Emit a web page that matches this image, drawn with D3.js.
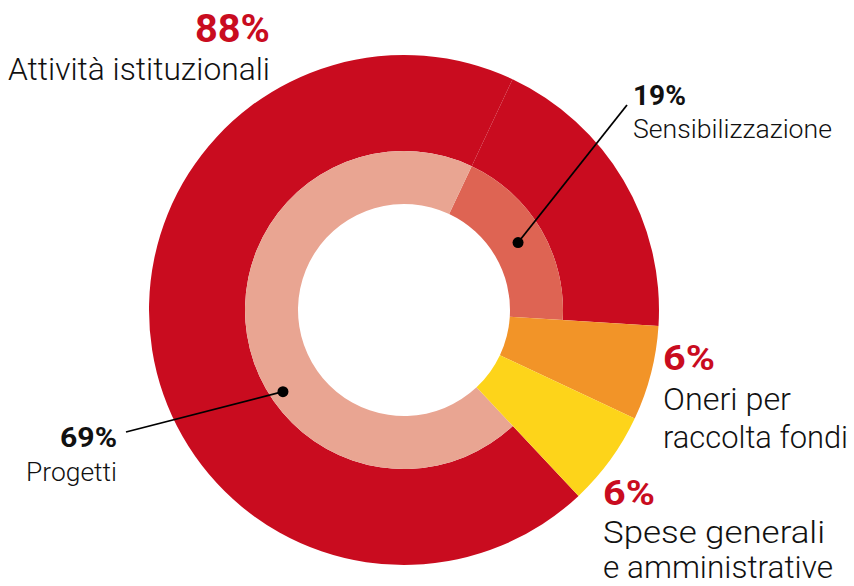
<!DOCTYPE html>
<html>
<head>
<meta charset="utf-8">
<script src="https://cdn.jsdelivr.net/npm/d3@7"></script>
<style>
  body { margin: 0; background: #fff; }
  svg { display: block; font-family: Roboto, "Liberation Sans", sans-serif; }
  .pct { font-weight: 700; }
  .lab { font-weight: 300; fill: #111; }
</style>
</head>
<body>
<div id="chart"></div>
<script>
// data
const categories = ['Sensibilizzazione', 'Oneri per raccolta fondi', 'Spese generali e amministrative', 'Progetti'];
const values = [19, 6, 6, 69];
const groupOf = ['Attività istituzionali', null, null, 'Attività istituzionali'];
const groupLabel = 'Attività istituzionali';
const groupValue = 88;

const width = 854, height = 586;
const cx = 404, cy = 310;
const rHole = 106, rMid = 159, rOuter = 255;
const startDeg = 25.2;

const red = '#C90C1F';
const colours = {
  'Sensibilizzazione': '#DE6453',
  'Oneri per raccolta fondi': '#F29428',
  'Spese generali e amministrative': '#FDD41A',
  'Progetti': '#E9A592'
};

const svg = d3.select('#chart').append('svg')
  .attr('width', width)
  .attr('height', height);

const g = svg.append('g')
  .attr('transform', `translate(${cx},${cy})`);

const rad = d => d * Math.PI / 180;
const pie = d3.pie().sort(null)
  .startAngle(rad(startDeg))
  .endAngle(rad(startDeg) + 2 * Math.PI);

const slices = pie(values).map((s, i) => ({...s, cat: categories[i], group: groupOf[i]}));

const innerArc = d3.arc().innerRadius(rHole).outerRadius(rMid);
const outerArc = d3.arc().innerRadius(rMid).outerRadius(rOuter);
const fullArc = d3.arc().innerRadius(rHole).outerRadius(rOuter);

// outer ring (grouped slices in red)
g.append('g').selectAll('path')
  .data(slices.filter(d => d.group))
  .enter().append('path')
    .attr('d', outerArc)
    .attr('fill', red);

// inner ring for grouped slices
g.append('g').selectAll('path')
  .data(slices.filter(d => d.group))
  .enter().append('path')
    .attr('d', innerArc)
    .attr('fill', d => colours[d.cat]);

// full-thickness slices
g.append('g').selectAll('path')
  .data(slices.filter(d => !d.group))
  .enter().append('path')
    .attr('d', fullArc)
    .attr('fill', d => colours[d.cat]);

// leader lines + dots
function polar(angleDeg, r) {
  const a = rad(angleDeg);
  return [cx + r * Math.sin(a), cy - r * Math.cos(a)];
}
const sens = slices[0];
const sensDot = innerArc.centroid(sens).map((v, i) => v + (i ? cy : cx));
const progDot = polar(236, 146);
const leaders = [
  {from: sensDot, to: [627, 105]},
  {from: progDot, to: [126, 432]}
];
const lg = svg.append('g');
lg.selectAll('line').data(leaders).enter().append('line')
  .attr('x1', d => d.from[0]).attr('y1', d => d.from[1])
  .attr('x2', d => d.to[0]).attr('y2', d => d.to[1])
  .attr('stroke', '#000').attr('stroke-width', 1.8);
lg.selectAll('circle').data(leaders).enter().append('circle')
  .attr('cx', d => d.from[0]).attr('cy', d => d.from[1])
  .attr('r', 5.5).attr('fill', '#000');

// labels
const fmt = v => `${v}%`;
function addText(x, y, txt, cls, size, fill, anchor, len) {
  const t = svg.append('text')
    .attr('x', x).attr('y', y)
    .attr('class', cls)
    .attr('font-size', size)
    .attr('text-anchor', anchor || 'start')
    .attr('fill', fill)
    .text(txt);
  if (len) t.attr('textLength', len).attr('lengthAdjust', 'spacingAndGlyphs');
  return t;
}

addText(270, 42, fmt(groupValue), 'pct', 38, red, 'end', 75);
addText(8, 80, groupLabel, 'lab', 32, '#111', 'start', 262);

addText(633, 105, fmt(values[0]), 'pct', 27, '#111', 'start', 53);
addText(633, 138, categories[0], 'lab', 25, '#111', 'start', 199);

addText(663, 370, fmt(values[1]), 'pct', 35, red, 'start', 52);
addText(663, 410, 'Oneri per', 'lab', 32, '#111', 'start', 128);
addText(663, 448, 'raccolta fondi', 'lab', 32, '#111', 'start', 185);

addText(603, 505, fmt(values[2]), 'pct', 35, red, 'start', 52);
addText(603, 543, 'Spese generali', 'lab', 32, '#111', 'start', 222);
addText(603, 578, 'e amministrative', 'lab', 31, '#111', 'start', 230);

addText(117, 447, fmt(values[3]), 'pct', 27, '#111', 'end', 57);
addText(117, 481, categories[3], 'lab', 25, '#111', 'end', 91);
</script>
</body>
</html>
